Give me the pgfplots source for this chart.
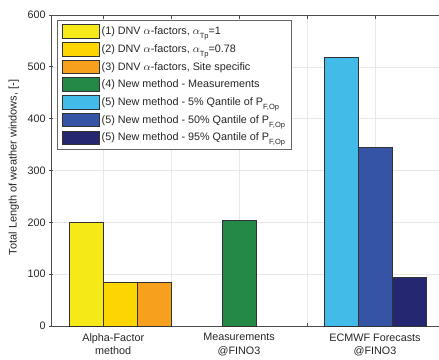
\documentclass[border=0pt]{standalone}
\usepackage{fontspec}
\setmainfont{Liberation Sans}
\usepackage{pgfplots}
\pgfplotsset{compat=1.18}
\definecolor{cA}{RGB}{245,234,24}
\definecolor{cB}{RGB}{253,214,2}
\definecolor{cC}{RGB}{246,160,30}
\definecolor{cD}{RGB}{36,137,70}
\definecolor{cE}{RGB}{66,187,233}
\definecolor{cF}{RGB}{53,84,166}
\definecolor{cG}{RGB}{37,40,112}
\definecolor{edge}{RGB}{50,50,50}
\definecolor{txt}{RGB}{38,38,38}
\newcommand\sub[1]{\raisebox{-3.8pt}{\fontsize{7.5}{8}\selectfont #1}}
\pgfplotsset{
  mybar/.style={ybar, bar width=0.5, bar shift=0pt, draw=edge, line width=0.8pt, fill=#1,
    legend image code/.code={\draw[##1] (0pt,-6.8pt) rectangle (37pt,6.8pt);}},
}
\begin{document}
\begin{tikzpicture}
\useasboundingbox (0,0) rectangle (439pt,359pt);
\begin{axis}[
  at={(51pt,33pt)}, anchor=south west, scale only axis,
  width=405.6pt, height=311pt,
  xmin=0.235, xmax=6.2, ymin=0, ymax=600,
  ytick={0,100,...,600},
  xtick={1,2,3,4,5}, xticklabels={},
  extra x ticks={1.15,3,5},
  extra x tick labels={Alpha-Factor\\method, Measurements\\@FINO3, ECMWF Forecasts\\@FINO3},
  extra x tick style={grid=none, major tick length=0pt},
  xticklabel style={align=center, font=\fontsize{10.8}{13.2}\selectfont, text=txt, yshift=-4pt},
  yticklabel style={font=\fontsize{10.8}{13}\selectfont, text=txt},
  /pgf/number format/assume math mode=true,
  grid=major, major grid style={gray!18, line width=0.6pt},
  axis x line=box, axis y line=left, y axis line style={-},
  axis line style={black!70, line width=0.9pt},
  major tick length=3.5pt, tick style={black!70, line width=0.7pt},
  ylabel={Total Length of weather windows, [-]},
  ylabel style={font=\fontsize{11}{13}\selectfont, text=txt, xshift=3pt, yshift=2pt},
  legend cell align=left,
  legend style={at={(axis description cs:0.0148,0.984)}, anchor=north west,
    draw=black!60, line width=0.8pt, fill=white,
    font=\fontsize{10.8}{12}\selectfont, text=txt,
    row sep=3.3pt, inner xsep=5pt, inner ysep=4pt,
    nodes={inner xsep=1.5pt}},
]
\addplot[mybar=cA] coordinates {(0.75,200)};
\addlegendentry{(1) DNV $\alpha$-factors, $\alpha$\sub{Tp}=1}
\addplot[mybar=cB] coordinates {(1.25,84)};
\addlegendentry{(2) DNV $\alpha$-factors, $\alpha$\sub{Tp}=0.78}
\addplot[mybar=cC] coordinates {(1.75,84)};
\addlegendentry{(3) DNV $\alpha$-factors, Site specific}
\addplot[mybar=cD] coordinates {(3,204)};
\addlegendentry{(4) New method - Measurements}
\addplot[mybar=cE] coordinates {(4.5,519)};
\addlegendentry{(5) New method - 5\% Qantile of P\sub{F,Op}}
\addplot[mybar=cF] coordinates {(5,345)};
\addlegendentry{(5) New method - 50\% Qantile of P\sub{F,Op}}
\addplot[mybar=cG] coordinates {(5.5,93)};
\addlegendentry{(5) New method - 95\% Qantile of P\sub{F,Op}}
\end{axis}
\end{tikzpicture}
\end{document}
